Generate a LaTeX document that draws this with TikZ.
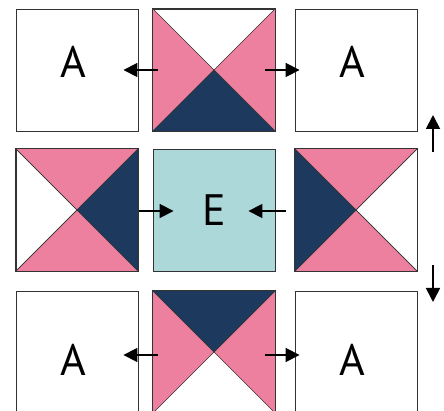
\documentclass[tikz,border=0pt]{standalone}
\usepackage{fontspec}
\setmainfont{PT Sans}
\usetikzlibrary{arrows.meta}

\definecolor{quiltpink}{HTML}{EE809F}
\definecolor{quiltnavy}{HTML}{1D3A5E}
\definecolor{quiltteal}{HTML}{ADD8DA}
\definecolor{quiltline}{HTML}{333333}

\begin{document}
\begin{tikzpicture}[x=1pt,y=-1pt,
    block/.style={draw=quiltline,line width=0.9pt,minimum size=122pt,inner sep=0pt},
    letter/.style={font=\fontsize{44}{44}\selectfont},
    tri/.style={draw=quiltline,line width=0.6pt},
    move/.style={line width=1.8pt,-{Triangle[length=14pt,width=14pt]}}
]

% Frame
\useasboundingbox (0,0) rectangle (444,411);

% Blocks
\node[block] (tl) at (77,70) {};
\node[block] (tm) at (214,70) {};
\node[block] (tr) at (356,70) {};
\node[block] (ml) at (77,210) {};
\node[block,fill=quiltteal] (mc) at (214,210) {};
\node[block] (mr) at (356,210) {};
\node[block] (bl) at (77,352) {};
\node[block] (bm) at (214,352) {};
\node[block] (br) at (356,352) {};

% Letters
\node[letter] (atl) at (73,62) {A};
\node[letter] (atr) at (352,62) {A};
\node[letter] (abl) at (73,360) {A};
\node[letter] (abr) at (352,360) {A};
\node[letter] (emc) at (214,210) {E};

% Top middle block
\fill[quiltpink,tri] (tm.north west) -- (tm.center) -- (tm.south west) -- cycle;
\fill[quiltpink,tri] (tm.north east) -- (tm.center) -- (tm.south east) -- cycle;
\fill[quiltnavy,tri] (tm.south west) -- (tm.center) -- (tm.south east) -- cycle;
\draw[quiltline,line width=0.9pt] (tm.north west) rectangle (tm.south east);

% Bottom middle block
\fill[quiltpink,tri] (bm.north west) -- (bm.center) -- (bm.south west) -- cycle;
\fill[quiltpink,tri] (bm.north east) -- (bm.center) -- (bm.south east) -- cycle;
\fill[quiltnavy,tri] (bm.north west) -- (bm.center) -- (bm.north east) -- cycle;
\draw[quiltline,line width=0.9pt] (bm.north west) rectangle (bm.south east);

% Middle left block
\fill[quiltpink,tri] (ml.north west) -- (ml.center) -- (ml.north east) -- cycle;
\fill[quiltpink,tri] (ml.south west) -- (ml.center) -- (ml.south east) -- cycle;
\fill[quiltnavy,tri] (ml.north east) -- (ml.center) -- (ml.south east) -- cycle;
\draw[quiltline,line width=0.6pt] (ml.north west) -- (ml.center) -- (ml.south west);
\draw[quiltline,line width=0.9pt] (ml.north west) rectangle (ml.south east);

% Middle right block
\fill[quiltpink,tri] (mr.north west) -- (mr.center) -- (mr.north east) -- cycle;
\fill[quiltpink,tri] (mr.south west) -- (mr.center) -- (mr.south east) -- cycle;
\fill[quiltnavy,tri] (mr.north west) -- (mr.center) -- (mr.south west) -- cycle;
\draw[quiltline,line width=0.6pt] (mr.north east) -- (mr.center) -- (mr.south east);
\draw[quiltline,line width=0.9pt] (mr.north west) rectangle (mr.south east);

% Moves
\draw[move] ([xshift=5pt]tm.west) -- ([xshift=-15pt]tl.east);
\draw[move] ([xshift=-10pt]tm.east) -- ([xshift=5pt]tr.west);
\draw[move] ([xshift=5pt,yshift=-3pt]bm.west) -- ([xshift=-15pt,yshift=-3pt]bl.east);
\draw[move] ([xshift=-10pt,yshift=-3pt]bm.east) -- ([xshift=5pt,yshift=-3pt]br.west);
\draw[move] ([xshift=1pt,yshift=-1pt]ml.east) -- ([xshift=21pt,yshift=-1pt]mc.west);
\draw[move] ([xshift=-9pt,yshift=-1pt]mr.west) -- ([xshift=-27pt,yshift=-1pt]mc.east);

% Turn arrows
\coordinate (upfrom) at (433,152);
\coordinate (upto) at (433,115);
\coordinate (downfrom) at (433,265);
\coordinate (downto) at (433,302);
\draw[move] (upfrom) -- (upto);
\draw[move] (downfrom) -- (downto);

\end{tikzpicture}
\end{document}
